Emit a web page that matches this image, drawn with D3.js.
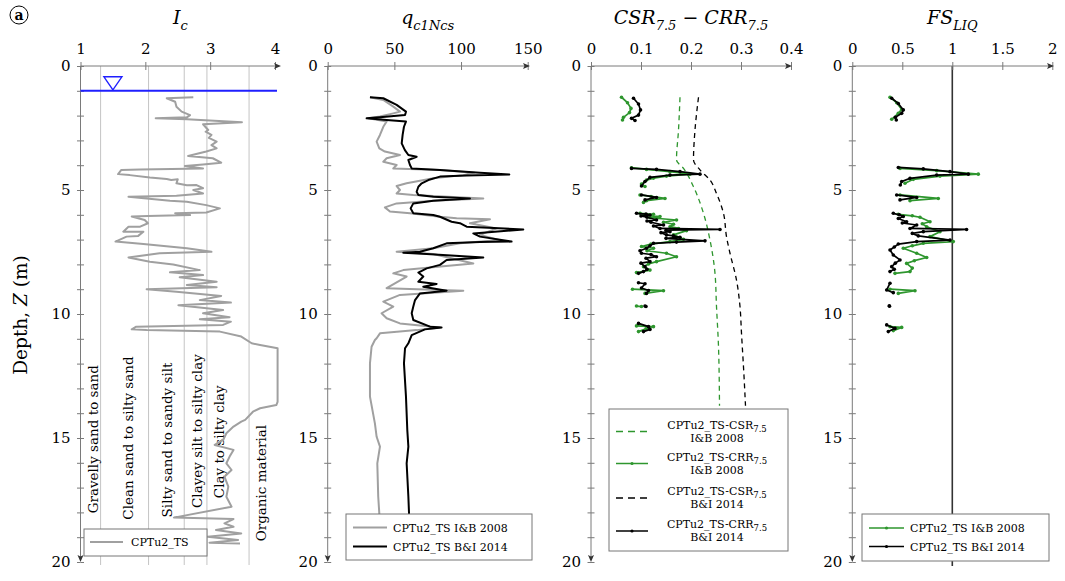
<!DOCTYPE html>
<html><head><meta charset="utf-8">
<script src="https://cdn.jsdelivr.net/npm/d3@7"></script>
<style>body{margin:0;background:#fff}svg{display:block}</style>
</head><body><svg id="c" width="1065" height="581"></svg>
<script>
// ---------------- DATA ----------------
const depthTicks = d3.range(0, 21, 1);
const icTicks = [1, 2, 3, 4];
const qTicks = [0, 50, 100, 150];
const crTicks = [0, 0.1, 0.2, 0.3, 0.4];
const fsTicks = [0, 0.5, 1, 1.5, 2];
const waterTableDepth = 1.0;
const soilBounds = [1.31, 2.05, 2.60, 2.95, 3.60];
const soilLabels = ["Gravelly sand to sand", "Clean sand to silty sand", "Silty sand to sandy silt",
  "Clayey silt to silty clay", "Clay to silty clay", "Organic material"];

// Ic profile [Ic, depth]
const icProfile = [[2.74,1.26],[2.33,1.30],[2.46,1.44],[2.48,1.64],[2.56,1.84],[2.69,1.98],[2.64,2.07],[2.16,2.11],[2.64,2.15],[3.49,2.27],[2.89,2.35],[2.97,2.58],[2.93,2.65],[3.02,2.78],[2.98,2.9],[3.10,3.05],[3.02,3.19],[3.10,3.32],[2.94,3.45],[2.66,3.63],[3.04,3.72],[3.17,3.90],[2.89,3.97],[2.61,4.03],[2.89,4.13],[1.92,4.17],[1.63,4.19],[1.58,4.36],[1.76,4.40],[2.07,4.50],[2.33,4.56],[2.40,4.60],[2.50,4.57],[2.48,4.73],[2.64,4.81],[2.79,4.80],[2.89,4.93],[2.74,5.00],[2.89,5.14],[2.48,5.23],[1.74,5.27],[2.02,5.34],[2.38,5.43],[2.64,5.47],[2.94,5.61],[3.15,5.74],[2.94,5.91],[2.46,5.94],[2.69,6.01],[2.04,6.05],[1.79,6.07],[1.99,6.21],[2.04,6.34],[1.92,6.48],[1.74,6.48],[1.66,6.68],[1.97,6.68],[1.89,6.85],[1.71,6.88],[1.54,7.08],[1.97,7.18],[2.64,7.35],[3.02,7.49],[2.22,7.55],[1.74,7.72],[2.07,7.89],[2.43,8.00],[2.84,8.23],[2.38,8.32],[2.89,8.43],[2.53,8.52],[3.10,8.70],[2.64,8.83],[3.10,8.92],[2.02,9.00],[2.48,9.10],[3.17,9.27],[2.84,9.44],[3.32,9.54],[2.51,9.65],[3.20,9.84],[2.89,9.97],[3.30,10.13],[2.84,10.21],[3.32,10.31],[3.20,10.44],[1.86,10.51],[1.79,10.62],[2.02,10.65],[3.15,10.71],[3.48,10.91],[3.64,11.18],[3.77,11.25],[4.04,11.38],[4.04,13.54],[4.02,13.67],[3.77,13.80],[3.66,13.94],[3.54,14.27],[3.48,14.34],[3.36,14.54],[3.25,14.81],[3.20,15.08],[3.07,15.28],[3.36,15.48],[3.30,15.75],[3.25,16.02],[3.33,16.29],[3.22,16.56],[3.28,16.96],[3.25,17.37],[3.33,17.77],[2.44,18.21],[3.36,18.27],[3.22,18.44],[3.36,18.58],[3.09,18.71],[3.48,18.85],[2.96,18.98],[3.43,19.11],[2.99,19.22],[3.46,19.25]];

// qc1Ncs [q, depth]
const qIB2008 = [[31.7,1.26],[41.7,1.37],[49.2,1.64],[54.2,1.84],[49.2,1.91],[39.2,2.04],[30.4,2.11],[44.2,2.24],[41.7,2.45],[39.2,2.78],[36.7,3.05],[38.7,3.32],[42.9,3.45],[54.2,3.59],[44.2,3.72],[41.7,3.86],[51.7,3.99],[49.2,4.13],[84.2,4.19],[110.0,4.30],[101.7,4.40],[79.2,4.53],[59.2,4.73],[51.7,4.84],[54.2,5.00],[51.7,5.14],[64.2,5.20],[116.7,5.34],[79.2,5.43],[51.7,5.54],[42.9,5.70],[46.7,5.87],[61.7,5.94],[84.2,6.08],[96.7,6.14],[121.7,6.18],[106.7,6.34],[126.7,6.55],[114.2,6.81],[129.2,7.02],[99.2,7.15],[79.2,7.35],[51.7,7.49],[79.2,7.58],[109.2,7.96],[86.7,8.07],[56.7,8.23],[49.2,8.36],[59.2,8.49],[44.2,8.96],[101.7,9.06],[54.2,9.23],[41.7,9.50],[49.2,9.70],[40.4,9.97],[44.2,10.17],[54.2,10.38],[84.2,10.54],[66.7,10.65],[39.2,10.78],[36.7,10.98],[35.4,11.05],[32.9,11.32],[31.7,11.99],[31.7,13.33],[35.4,14.41],[36.7,14.95],[39.2,15.35],[37.2,16.02],[37.9,17.37],[38.7,18.04],[38.7,19.0]];
const qBI2014 = [[31.7,1.26],[41.7,1.30],[51.7,1.57],[58.7,1.84],[58.0,1.98],[39.2,2.07],[29.2,2.11],[44.2,2.18],[58.7,2.24],[57.2,2.45],[56.2,2.78],[55.5,3.12],[57.9,3.39],[60.5,3.59],[66.7,3.66],[60.5,3.79],[61.7,3.99],[63.0,4.13],[84.2,4.19],[114.2,4.30],[136.2,4.37],[104.2,4.42],[84.2,4.46],[75.5,4.60],[70.5,4.73],[68.0,4.87],[66.7,5.07],[68.0,5.20],[79.2,5.27],[106.7,5.34],[79.2,5.43],[64.2,5.54],[62.2,5.74],[64.2,5.94],[79.2,6.01],[84.2,6.08],[92.9,6.28],[99.2,6.34],[104.2,6.48],[146.7,6.59],[109.2,6.75],[114.2,6.88],[137.9,7.08],[114.2,7.10],[89.2,7.15],[79.2,7.35],[69.2,7.49],[56.7,7.53],[74.2,7.58],[116.7,7.72],[89.2,7.82],[84.2,8.02],[74.2,8.16],[68.0,8.33],[71.7,8.49],[68.0,8.70],[81.7,8.79],[71.7,8.90],[89.2,9.06],[69.2,9.17],[65.5,9.44],[64.2,9.70],[63.0,9.97],[64.2,10.24],[76.7,10.51],[85.4,10.54],[72.9,10.62],[63.0,10.85],[60.5,11.18],[58.0,11.38],[57.2,11.99],[58.7,13.33],[59.7,14.68],[60.5,15.35],[59.2,16.02],[60.5,17.37],[61.0,18.04],[61.0,19.0]];

// CSR7.5 (dashed) [value, depth]
const csrIB2008 = [[0.178,1.26],[0.175,2.58],[0.171,3.79],[0.185,4.13],[0.205,4.87],[0.225,5.94],[0.238,7.02],[0.248,8.36],[0.251,9.70],[0.255,11.32],[0.257,13.70]];
const csrBI2014 = [[0.215,1.26],[0.208,2.58],[0.205,3.79],[0.218,4.19],[0.238,4.60],[0.251,5.14],[0.265,5.94],[0.271,6.88],[0.278,7.55],[0.291,8.63],[0.298,9.70],[0.301,10.78],[0.306,12.50],[0.309,13.70]];

// CRR7.5 segments [value, depth]
const crrIB2008 = [
  [[0.061,1.26],[0.073,1.48],[0.080,1.71],[0.077,1.88],[0.065,2.07],[0.063,2.18]],
  [[0.081,4.10],[0.111,4.17],[0.158,4.26],[0.198,4.36],[0.151,4.44],[0.125,4.52],[0.111,4.60],[0.101,4.76],[0.108,4.86]],
  [[0.098,5.20],[0.120,5.26],[0.148,5.34],[0.111,5.43],[0.105,5.50]],
  [[0.098,5.94],[0.125,5.98],[0.105,6.02],[0.138,6.07],[0.118,6.12],[0.171,6.21],[0.145,6.30],[0.165,6.38],[0.158,6.48],[0.175,6.55],[0.191,6.64],[0.165,6.81],[0.185,6.99],[0.158,7.08],[0.120,7.18],[0.101,7.28],[0.125,7.35],[0.112,7.45],[0.151,7.55],[0.171,7.69],[0.131,7.89],[0.115,7.98],[0.105,8.09],[0.118,8.23],[0.091,8.33]],
  [[0.083,9.00],[0.145,9.06],[0.108,9.17]],
  [[0.091,9.68],[0.101,9.70]],
  [[0.091,10.48],[0.125,10.51],[0.110,10.60],[0.095,10.71]]
];
const crrBI2014 = [
  [[0.085,1.30],[0.095,1.53],[0.099,1.77],[0.095,1.98],[0.081,2.11],[0.088,2.20]],
  [[0.081,4.13],[0.131,4.17],[0.178,4.26],[0.218,4.36],[0.158,4.40],[0.118,4.49],[0.108,4.66],[0.101,4.84]],
  [[0.101,5.20],[0.131,5.30],[0.108,5.40]],
  [[0.091,5.94],[0.110,5.97],[0.118,6.01],[0.100,6.05],[0.112,6.10],[0.131,6.21],[0.112,6.25],[0.120,6.30],[0.145,6.41],[0.125,6.45],[0.138,6.55],[0.258,6.59],[0.150,6.62],[0.158,6.68],[0.140,6.72],[0.151,6.81],[0.165,6.85],[0.178,6.91],[0.150,6.95],[0.228,7.05],[0.171,7.10],[0.125,7.15],[0.118,7.25],[0.111,7.35],[0.098,7.45],[0.101,7.55],[0.120,7.60],[0.131,7.69],[0.110,7.75],[0.118,7.89],[0.100,7.95],[0.108,8.09],[0.112,8.20],[0.105,8.29],[0.095,8.36]],
  [[0.095,8.74],[0.108,8.78],[0.101,8.95],[0.115,9.05],[0.111,9.17]],
  [[0.108,9.68],[0.110,9.70]],
  [[0.095,10.38],[0.115,10.51],[0.118,10.62],[0.105,10.71]]
];

// FS_LIQ segments [value, depth]
const fsIB2008 = [
  [[0.377,1.26],[0.444,1.48],[0.494,1.75],[0.46,1.91],[0.394,2.15]],
  [[0.477,4.13],[0.844,4.22],[1.26,4.36],[0.877,4.44],[0.61,4.57],[0.527,4.73]],
  [[0.477,5.20],[0.86,5.34],[0.577,5.43]],
  [[0.46,5.98],[0.60,6.04],[0.677,6.10],[0.777,6.28],[0.70,6.36],[0.744,6.48],[0.877,6.68],[0.777,6.88],[1.01,7.08],[0.71,7.15],[0.60,7.25],[0.51,7.35],[0.644,7.55],[0.744,7.72],[0.62,7.85],[0.543,7.96],[0.60,8.15],[0.577,8.29],[0.427,8.36]],
  [[0.377,9.00],[0.627,9.06],[0.46,9.17]],
  [[0.377,10.51],[0.494,10.54],[0.41,10.67]]
];
const fsBI2014 = [
  [[0.394,1.30],[0.46,1.51],[0.51,1.77],[0.494,1.91],[0.43,2.07],[0.44,2.18]],
  [[0.46,4.09],[0.71,4.15],[0.977,4.26],[1.16,4.36],[0.844,4.40],[0.577,4.53],[0.494,4.66],[0.48,4.80]],
  [[0.444,5.20],[0.644,5.30],[0.477,5.40]],
  [[0.41,5.94],[0.47,6.00],[0.51,6.07],[0.46,6.15],[0.543,6.28],[0.50,6.33],[0.644,6.41],[0.577,6.55],[1.143,6.59],[0.71,6.68],[0.60,6.75],[0.66,6.85],[0.977,7.02],[0.644,7.08],[0.46,7.18],[0.42,7.30],[0.377,7.42],[0.41,7.62],[0.477,7.82],[0.43,7.95],[0.394,8.09],[0.42,8.20],[0.377,8.29]],
  [[0.377,8.76],[0.344,9.03],[0.41,9.14]],
  [[0.37,9.67],[0.372,9.69]],
  [[0.344,10.44],[0.427,10.58],[0.36,10.71]]
];

// ---------------- LAYOUT ----------------
const FONT = "DejaVu Serif";
const GREEN = "#2e962e";
const GRAY = "#a0a0a0";
const AXC = "#7a7a7a";
const svg = d3.select("#c");
const y = d3.scaleLinear().domain([0, 20]).range([66, 562]);

const xIc = d3.scaleLinear().domain([1, 4]).range([80.5, 275]);
const xQ = d3.scaleLinear().domain([0, 150]).range([327.7, 527.7]);
const xCR = d3.scaleLinear().domain([0, 0.4]).range([591, 791]);
const xFS = d3.scaleLinear().domain([0, 2]).range([852.3, 1052.3]);

function sub(textSel, parts, size, subSize) {
  parts.forEach(p => {
    const t = textSel.append("tspan").text(p.t);
    if (p.sub) t.attr("font-size", subSize).attr("dy", size * 0.3);
    else if (p.back) t.attr("dy", -size * 0.3);
    if (p.upright) t.attr("font-style", "normal");
  });
}

function axes(x, ticks, tipX) {
  const g = svg.append("g");
  const x0 = x.range()[0];
  const top = g.append("g").attr("transform", `translate(0,${y(0)})`)
    .call(d3.axisTop(x).tickValues(ticks).tickSize(4).tickPadding(8).tickFormat(d => String(d)));
  top.select(".domain").remove();
  const bot = g.append("g").attr("transform", `translate(0,${y(0)})`)
    .call(d3.axisBottom(x).tickValues(ticks).tickSize(4).tickFormat(""));
  bot.select(".domain").remove();
  const left = g.append("g").attr("transform", `translate(${x0},0)`)
    .call(d3.axisLeft(y).tickValues(depthTicks).tickSize(3.5).tickPadding(6.5).tickFormat(d => d % 5 === 0 ? String(d) : ""));
  left.select(".domain").remove();
  const right = g.append("g").attr("transform", `translate(${x0},0)`)
    .call(d3.axisRight(y).tickValues(depthTicks).tickSize(3.5).tickFormat(""));
  right.select(".domain").remove();
  g.selectAll(".tick line").attr("stroke", AXC);
  g.selectAll(".tick text").attr("font-family", FONT).attr("font-size", 15).attr("fill", "#000");
  g.append("line").attr("x1", x0).attr("x2", tipX - 4).attr("y1", y(0)).attr("y2", y(0)).attr("stroke", AXC);
  g.append("path").attr("d", `M${tipX},${y(0)} L${tipX - 7},${y(0) - 3} L${tipX - 5.5},${y(0)} L${tipX - 7},${y(0) + 3} Z`).attr("fill", "#333");
  const yb = y(20);
  g.append("line").attr("x1", x0).attr("x2", x0).attr("y1", y(0)).attr("y2", yb - 4).attr("stroke", AXC);
  g.append("path").attr("d", `M${x0},${yb} L${x0 - 3},${yb - 7} L${x0},${yb - 5.5} L${x0 + 3},${yb - 7} Z`).attr("fill", "#333");
}

function title(cx, parts) {
  const t = svg.append("text").attr("x", cx).attr("y", 24).attr("text-anchor", "middle")
    .attr("font-family", FONT).attr("font-style", "italic").attr("font-size", 19);
  sub(t, parts, 19, 13);
}

function legendBox(x, yy, w, h) {
  svg.append("rect").attr("x", x).attr("y", yy).attr("width", w).attr("height", h)
    .attr("fill", "#fff").attr("stroke", "#777").attr("stroke-width", 1);
}
function legText(x, yy, parts, anchor) {
  const t = svg.append("text").attr("x", x).attr("y", yy).attr("font-family", FONT)
    .attr("font-size", 11).attr("text-anchor", anchor || "start");
  sub(t, parts, 11, 8.5);
}

const lineGen = (x) => d3.line().x(d => x(d[0])).y(d => y(d[1]));

// ---------- (a) label ----------
svg.append("circle").attr("cx", 19).attr("cy", 15).attr("r", 9).attr("fill", "none").attr("stroke", "#000").attr("stroke-width", 1);
svg.append("text").attr("x", 19).attr("y", 19.5).attr("text-anchor", "middle").attr("font-family", FONT)
  .attr("font-weight", "bold").attr("font-size", 14).text("a");

// y label
const yl = svg.append("text").attr("transform", `translate(27,${315}) rotate(-90)`).attr("text-anchor", "middle")
  .attr("font-family", FONT).attr("font-size", 18.5);
yl.append("tspan").text("Depth, ");
yl.append("tspan").attr("font-style", "italic").text("Z");
yl.append("tspan").text(" (m)");

// ---------- Panel 1: Ic ----------
soilBounds.forEach(b => {
  svg.append("line").attr("x1", xIc(b)).attr("x2", xIc(b)).attr("y1", y(0)).attr("y2", y(20) + 3)
    .attr("stroke", "#c4c4c4").attr("stroke-width", 1);
});
const soilLabelIc = [1.2, 1.73, 2.33, 2.79, 3.13, 3.79];
const soilLabelDepth = [15.05, 15.0, 15.08, 14.72, 15.15, 16.82];
soilLabels.forEach((s, i) => {
  svg.append("text").attr("transform", `translate(${xIc(soilLabelIc[i]) + 5},${y(soilLabelDepth[i])}) rotate(-90)`)
    .attr("text-anchor", "middle").attr("font-family", FONT).attr("font-size", 13.5).text(s);
});
svg.append("path").datum(icProfile).attr("d", lineGen(xIc)).attr("fill", "none")
  .attr("stroke", GRAY).attr("stroke-width", 2).attr("stroke-linejoin", "round");
axes(xIc, icTicks, 281);
svg.append("line").attr("x1", xIc(1)).attr("x2", 277).attr("y1", y(waterTableDepth)).attr("y2", y(waterTableDepth))
  .attr("stroke", "#1f1fff").attr("stroke-width", 2);
const tx = xIc(1.5), ty = y(waterTableDepth);
svg.append("path").attr("d", `M${tx},${ty - 1} L${tx - 9},${ty - 14} L${tx + 9},${ty - 14} Z`)
  .attr("fill", "none").attr("stroke", "#1f1fff").attr("stroke-width", 1.4);
title(xIc(2.54), [{t:"I"},{t:"c",sub:true}]);
legendBox(84, 529, 123, 27);
svg.append("line").attr("x1", 90).attr("x2", 123).attr("y1", 542).attr("y2", 542).attr("stroke", GRAY).attr("stroke-width", 2);
legText(131, 546, [{t:"CPTu2_TS"}]);

// ---------- Panel 2: qc1Ncs ----------
svg.append("path").datum(qIB2008).attr("d", lineGen(xQ)).attr("fill", "none")
  .attr("stroke", GRAY).attr("stroke-width", 2).attr("stroke-linejoin", "round");
svg.append("path").datum(qBI2014).attr("d", lineGen(xQ)).attr("fill", "none")
  .attr("stroke", "#000").attr("stroke-width", 2).attr("stroke-linejoin", "round");
axes(xQ, qTicks, 530);
title(xQ(75), [{t:"q"},{t:"c1Ncs",sub:true}]);
legendBox(346, 514, 186, 46);
svg.append("line").attr("x1", 353).attr("x2", 387).attr("y1", 527.5).attr("y2", 527.5).attr("stroke", GRAY).attr("stroke-width", 2);
svg.append("line").attr("x1", 353).attr("x2", 387).attr("y1", 546.5).attr("y2", 546.5).attr("stroke", "#000").attr("stroke-width", 2);
legText(393, 531.5, [{t:"CPTu2_TS I&B 2008"}]);
legText(393, 550.5, [{t:"CPTu2_TS B&I 2014"}]);

// ---------- Panel 3: CSR / CRR ----------
svg.append("path").datum(csrIB2008).attr("d", lineGen(xCR).curve(d3.curveMonotoneY)).attr("fill", "none")
  .attr("stroke", GREEN).attr("stroke-width", 1.3).attr("stroke-dasharray", "5,4");
svg.append("path").datum(csrBI2014).attr("d", lineGen(xCR).curve(d3.curveMonotoneY)).attr("fill", "none")
  .attr("stroke", "#000").attr("stroke-width", 1.3).attr("stroke-dasharray", "5,4");
function segSeries(segs, x, color) {
  const g = svg.append("g");
  g.selectAll("path").data(segs).join("path").attr("d", lineGen(x)).attr("fill", "none")
    .attr("stroke", color).attr("stroke-width", 1.7).attr("stroke-linejoin", "round");
  g.selectAll("circle").data(segs.flat()).join("circle").attr("cx", d => x(d[0])).attr("cy", d => y(d[1]))
    .attr("r", 1.8).attr("fill", color);
}
segSeries(crrIB2008, xCR, GREEN);
segSeries(crrBI2014, xCR, "#000");
axes(xCR, crTicks, 792);
title(xCR(0.2), [{t:"CSR"},{t:"7.5",sub:true},{t:" − ",back:true,upright:true},{t:"CRR"},{t:"7.5",sub:true}]);
legendBox(609, 409, 179, 142);
const legY = [431.5, 463.5, 498, 531];
const legCol = [GREEN, GREEN, "#000", "#000"];
const legDash = [true, false, true, false];
const legL1 = ["CPTu2_TS-CSR", "CPTu2_TS-CRR", "CPTu2_TS-CSR", "CPTu2_TS-CRR"];
const legL2 = ["I&B 2008", "I&B 2008", "B&I 2014", "B&I 2014"];
legY.forEach((ly, i) => {
  const l = svg.append("line").attr("x1", 616).attr("x2", 648).attr("y1", ly).attr("y2", ly)
    .attr("stroke", legCol[i]).attr("stroke-width", 1.5);
  if (legDash[i]) l.attr("stroke-dasharray", "7,5");
  else svg.append("circle").attr("cx", 632).attr("cy", ly).attr("r", 1.6).attr("fill", legCol[i]);
  legText(717, ly - 3, [{t:legL1[i]},{t:"7.5",sub:true}], "middle");
  legText(717, ly + 10, [{t:legL2[i]}], "middle");
});

// ---------- Panel 4: FS ----------
svg.append("line").attr("x1", xFS(1)).attr("x2", xFS(1)).attr("y1", y(0)).attr("y2", y(20) + 4)
  .attr("stroke", "#333").attr("stroke-width", 1.6);
segSeries(fsIB2008, xFS, GREEN);
segSeries(fsBI2014, xFS, "#000");
axes(xFS, fsTicks, 1054);
title(xFS(1), [{t:"FS"},{t:"LIQ",sub:true}]);
legendBox(862, 514, 187, 47);
svg.append("line").attr("x1", 869).attr("x2", 904).attr("y1", 528).attr("y2", 528).attr("stroke", GREEN).attr("stroke-width", 1.5);
svg.append("circle").attr("cx", 886.5).attr("cy", 528).attr("r", 1.6).attr("fill", GREEN);
svg.append("line").attr("x1", 869).attr("x2", 904).attr("y1", 546.5).attr("y2", 546.5).attr("stroke", "#000").attr("stroke-width", 1.5);
svg.append("circle").attr("cx", 886.5).attr("cy", 546.5).attr("r", 1.6).attr("fill", "#000");
legText(910, 532, [{t:"CPTu2_TS I&B 2008"}]);
legText(910, 550.5, [{t:"CPTu2_TS B&I 2014"}]);
</script></body></html>
